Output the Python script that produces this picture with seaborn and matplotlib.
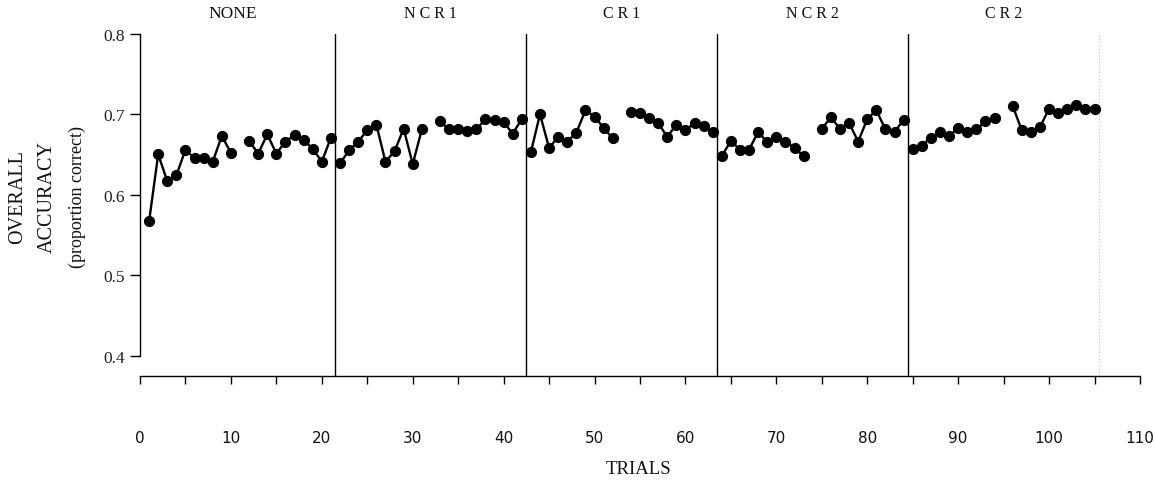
import numpy as np
import pandas as pd
import matplotlib
matplotlib.use("Agg")
import matplotlib.pyplot as plt
import seaborn as sns

nan = np.nan

# Overall accuracy per trial, 21 trials per phase (trial 11 of each phase not scored)
phases = ["NONE", "N C R 1", "C R 1", "N C R 2", "C R 2"]
acc_none = [0.567, 0.650, 0.617, 0.624, 0.656, 0.645, 0.646, 0.641, 0.673, 0.652, nan,
            0.667, 0.651, 0.675, 0.651, 0.666, 0.674, 0.668, 0.657, 0.641, 0.671]
acc_ncr1 = [0.639, 0.655, 0.666, 0.680, 0.687, 0.641, 0.654, 0.682, 0.638, 0.681, nan,
            0.691, 0.681, 0.682, 0.679, 0.681, 0.694, 0.693, 0.690, 0.676, 0.694]
acc_cr1 = [0.653, 0.700, 0.658, 0.672, 0.666, 0.677, 0.705, 0.697, 0.683, 0.670, nan,
           0.703, 0.701, 0.695, 0.689, 0.672, 0.687, 0.680, 0.689, 0.685, 0.678]
acc_ncr2 = [0.648, 0.667, 0.656, 0.656, 0.678, 0.665, 0.672, 0.666, 0.658, 0.648, nan,
            0.682, 0.696, 0.682, 0.689, 0.666, 0.694, 0.705, 0.681, 0.678, 0.693]
acc_cr2 = [0.657, 0.661, 0.671, 0.678, 0.673, 0.683, 0.678, 0.681, 0.691, 0.695, nan,
           0.710, 0.680, 0.678, 0.684, 0.707, 0.701, 0.706, 0.711, 0.707, 0.707]

x_ticks = [0, 10, 20, 30, 40, 50, 60, 70, 80, 90, 100, 110]
y_ticks = [0.4, 0.5, 0.6, 0.7, 0.8]
y_tick_labels = ["0.4", "0.5", "0.6", "0.7", "0.8"]

# Build a long table; each unbroken stretch of trials becomes its own line unit
rows = []
trial = 1
run = 0
for phase, values in zip(phases, [acc_none, acc_ncr1, acc_cr1, acc_ncr2, acc_cr2]):
    run += 1
    for v in values:
        if np.isnan(v):
            run += 1
        else:
            rows.append({"trial": trial, "accuracy": v, "phase": phase, "run": run})
        trial += 1
df = pd.DataFrame(rows)
n_per_phase = len(acc_none)

sns.set_style("ticks")
plt.rcParams["font.family"] = ["Liberation Serif", "DejaVu Serif"]
serif = ["Liberation Serif", "DejaVu Serif"]

fig = plt.figure(figsize=(11.55, 4.85), dpi=100)
ax = fig.add_axes([140 / 1155, 1 - 377 / 485, 1000 / 1155, (377 - 34.7) / 485])

sns.lineplot(data=df, x="trial", y="accuracy", units="run", estimator=None,
             color="black", linewidth=1.7, marker="o", markersize=7.3,
             markeredgecolor="black", markerfacecolor="black", ax=ax, legend=False)

# phase boundaries
for k in range(1, len(phases)):
    ax.axvline(k * n_per_phase + 0.5, color="black", linewidth=1.0, zorder=0)
ax.axvline(len(phases) * n_per_phase + 0.5, color="#bbbbbb", linewidth=0.8,
           linestyle=(0, (1, 2)), zorder=0)

# phase names above each block
for k, name in enumerate(phases):
    xc = k * n_per_phase + n_per_phase / 2 + 0.5
    size = 11.5
    if k == 0:
        xc -= 0.8
        size = 12.5
    ax.text(xc, 1.06, name, transform=ax.get_xaxis_transform(), ha="center",
            va="center", fontsize=size, family=serif, color="#111111", clip_on=False)

ax.set_xlim(0, 110)
ax.set_ylim(0.3748, 0.8)
ax.spines["left"].set_bounds(0.4, 0.8)
ax.spines["top"].set_visible(False)
ax.spines["right"].set_visible(False)
for s in ["left", "bottom"]:
    ax.spines[s].set_linewidth(1.0)
    ax.spines[s].set_color("black")

ax.set_yticks(y_ticks)
ax.set_yticklabels(y_tick_labels, fontsize=12.5, family=serif)
ax.set_xticks(x_ticks)
ax.set_xticks(np.arange(5, 110, 10), minor=True)
ax.set_xticklabels([str(t) for t in x_ticks], fontsize=11,
                   family=["Liberation Sans Narrow", "DejaVu Sans"])
ax.tick_params(axis="y", direction="out", length=7, width=1, pad=4, colors="black",
               labelcolor="#222222")
ax.tick_params(axis="x", which="both", direction="out", length=6, width=1, pad=33,
               colors="black", labelcolor="#111111")
ax.set_xlabel("")
ax.set_ylabel("")

# axis titles
fig.text(638 / 1155, 1 - 470 / 485, "TRIALS", ha="center", va="center",
         fontsize=13.5, color="#111111")
for xpix, line in [(18, "OVERALL"), (47, "ACCURACY"), (77, "(proportion correct)")]:
    fig.text(xpix / 1155, 1 - 197 / 485, line, rotation=90, ha="center", va="center",
             fontsize=14.5 if line.isupper() else 13, color="#111111")

fig.savefig("out.png", dpi=100, facecolor="white")
